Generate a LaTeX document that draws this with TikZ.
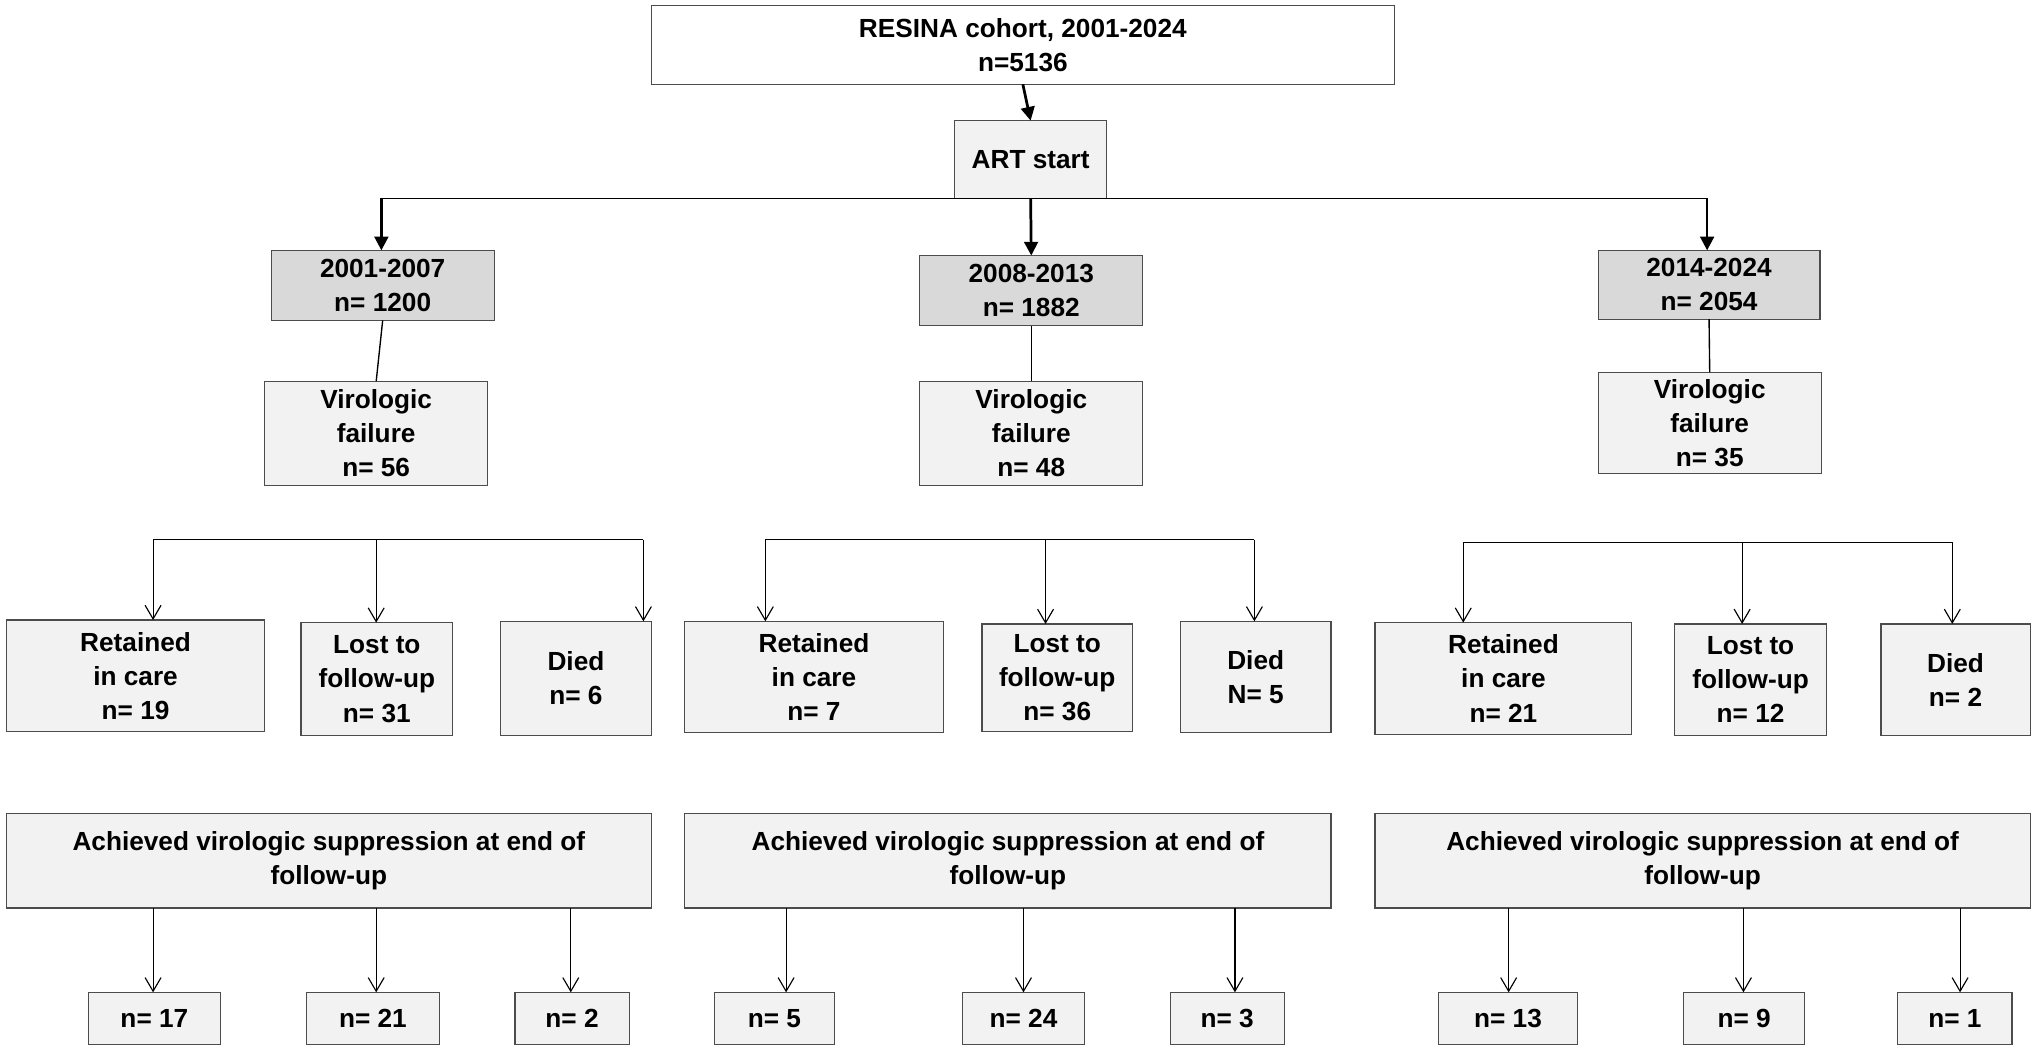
\documentclass[tikz,border=0pt]{standalone}
\usepackage{fontspec}
\setmainfont{Liberation Sans}
\usetikzlibrary{arrows.meta}
\definecolor{lg}{HTML}{F2F2F2}
\definecolor{dg}{HTML}{D9D9D9}
\tikzset{
 box/.style={draw=black!70,line width=0.5pt,inner sep=0pt,outer sep=0pt,align=center,font=\fontsize{11.5}{15}\selectfont\bfseries},
 big/.style={-{Triangle[length=6pt,width=6pt]},line width=1.2pt},
 thin/.style={-{Straight Barb[length=6pt,width=7pt]},line width=0.5pt},
 ln/.style={line width=0.6pt}
}
\newcommand\bx[7]{\node[box,fill=#6,minimum width={(#4-#2)*0.02cm},minimum height={(#5-#3)*0.02cm}] (#1) at ({(#2+#4)/2},{(#3+#5)/2}) {#7};}
\begin{document}
\begin{tikzpicture}[x=0.02cm,y=-0.02cm]
\useasboundingbox (0,0) rectangle (1568,810);
\bx{top}{502}{4}{1075}{65}{white}{RESINA cohort, 2001-2024\\n=5136}
\bx{art}{736}{93}{853}{153}{lg}{ART start}
\draw[big] (top.south) -- (art.north);
\bx{p1}{209}{193}{381}{247}{dg}{2001-2007\\n= 1200}
\bx{p2}{709}{197}{881}{251}{dg}{2008-2013\\n= 1882}
\bx{p3}{1232}{193}{1403}{246}{dg}{2014-2024\\n= 2054}
\coordinate (h1) at (294,153); \coordinate (h3) at (1316,153);
\draw[ln] (h1) -- (h3);
\draw[big] (h1) -- (h1 |- p1.north);
\draw[big] (art.south) -- (p2.north);
\draw[big] (h3) -- (h3 |- p3.north);
\bx{v1}{204}{294}{376}{374}{lg}{Virologic\\failure\\n= 56}
\bx{v2}{709}{294}{881}{374}{lg}{Virologic\\failure\\n= 48}
\bx{v3}{1232}{287}{1404}{365}{lg}{Virologic\\failure\\n= 35}
\draw[ln] (p1.south) -- (v1.north);
\draw[ln] (p2.south) -- (v2.north);
\draw[ln] (p3.south) -- (v3.north);
\bx{r1}{5}{478}{204}{564}{lg}{Retained\\in care\\n= 19}
\bx{l1}{232}{480}{349}{567}{lg}{Lost to\\follow-up\\n= 31}
\bx{d1}{386}{479}{502}{567}{lg}{Died\\n= 6}
\bx{r2}{528}{479}{727}{565}{lg}{Retained\\in care\\n= 7}
\bx{l2}{757}{481}{873}{564}{lg}{Lost to\\follow-up\\n= 36}
\bx{d2}{910}{479}{1026}{565}{lg}{Died\\N= 5}
\bx{r3}{1060}{480}{1258}{566}{lg}{Retained\\in care\\n= 21}
\bx{l3}{1291}{481}{1408}{567}{lg}{Lost to\\follow-up\\n= 12}
\bx{d3}{1450}{481}{1565}{567}{lg}{Died\\n= 2}
\coordinate (a1) at (118,416); \coordinate (b1) at (290,416); \coordinate (c1) at (496,416);
\coordinate (a2) at (590,416); \coordinate (b2) at (806,416); \coordinate (c2) at (967,416);
\coordinate (a3) at (1128,418); \coordinate (b3) at (1343,418); \coordinate (c3) at (1505,418);
\draw[ln] (a1) -- (c1); \draw[ln] (a2) -- (c2); \draw[ln] (a3) -- (c3);
\draw[thin] (a1) -- (a1 |- r1.north); \draw[thin] (b1) -- (b1 |- l1.north); \draw[thin] (c1) -- (c1 |- d1.north);
\draw[thin] (a2) -- (a2 |- r2.north); \draw[thin] (b2) -- (b2 |- l2.north); \draw[thin] (c2) -- (c2 |- d2.north);
\draw[thin] (a3) -- (a3 |- r3.north); \draw[thin] (b3) -- (b3 |- l3.north); \draw[thin] (c3) -- (c3 |- d3.north);
\bx{s1}{5}{627}{502}{700}{lg}{Achieved virologic suppression at end of\\follow-up}
\bx{s2}{528}{627}{1026}{700}{lg}{Achieved virologic suppression at end of\\follow-up}
\bx{s3}{1060}{627}{1565}{700}{lg}{Achieved virologic suppression at end of\\follow-up}
\bx{n1}{68}{765}{170}{805}{lg}{n= 17}
\bx{n2}{236}{765}{339}{805}{lg}{n= 21}
\bx{n3}{397}{765}{485}{805}{lg}{n= 2}
\bx{n4}{551}{765}{643}{805}{lg}{n= 5}
\bx{n5}{742}{765}{836}{805}{lg}{n= 24}
\bx{n6}{902}{765}{990}{805}{lg}{n= 3}
\bx{n7}{1109}{765}{1216}{805}{lg}{n= 13}
\bx{n8}{1298}{765}{1391}{805}{lg}{n= 9}
\bx{n9}{1463}{765}{1551}{805}{lg}{n= 1}
\foreach \x/\s/\n in {118/s1/n1,290/s1/n2,440/s1/n3,606/s2/n4,789/s2/n5,952/s2/n6,1163/s3/n7,1344/s3/n8,1511/s3/n9}
  \draw[thin] (\x,700) -- (\x,765);
\end{tikzpicture}
\end{document}
